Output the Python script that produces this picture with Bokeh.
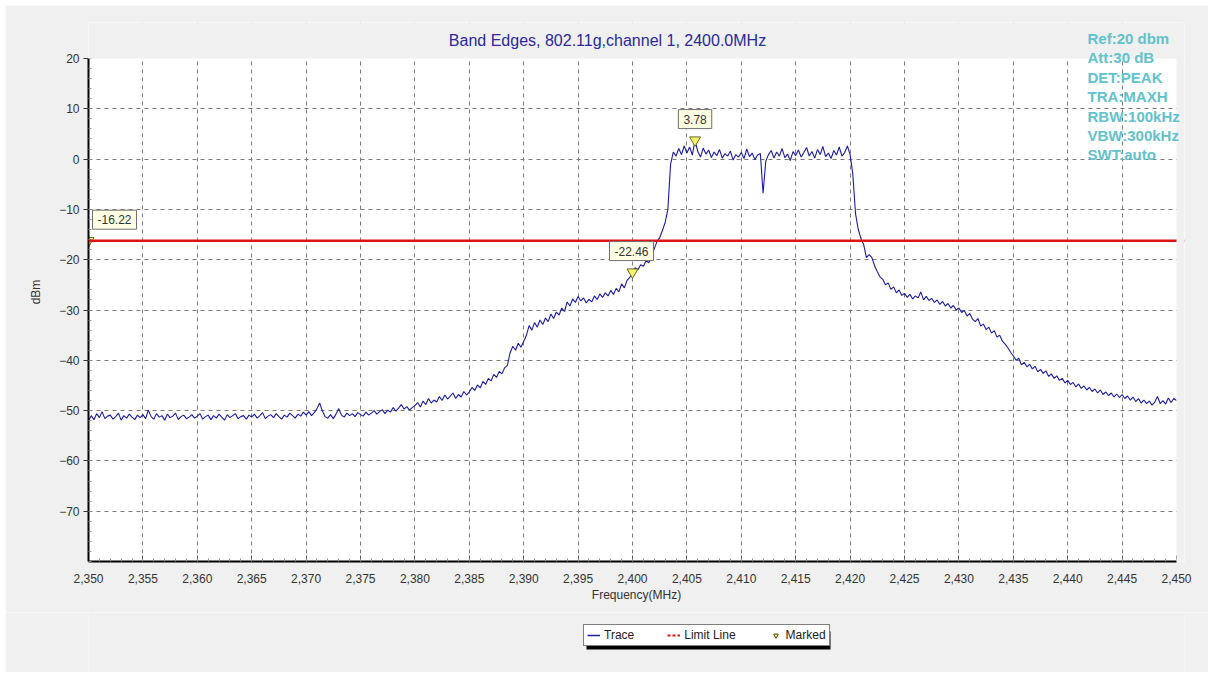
import numpy as np
from bokeh.plotting import figure
from bokeh.layouts import column
from bokeh.models import (ColumnDataSource, Label, Legend, LegendItem, FixedTicker,
                          NumeralTickFormatter, Range1d, Span, BoxAnnotation)
from bokeh.embed import file_html
from bokeh.resources import INLINE

title_text = "Band Edges, 802.11g,channel 1, 2400.0MHz"
f_start, f_stop = 2350.0, 2450.0
y_min, y_max = -80.0, 20.0

# trace level (dBm), one value every 0.25 MHz
level_dbm = [
    -52.1, -51.0, -51.8, -50.6, -51.4, -50.2, -51.6, -51.1, -50.9, -51.7, -51.2, -50.5, -51.9, -51.0, -51.5, -50.7, -51.3, -51.8, -50.9, -51.4,
    -50.8, -51.6, -49.9, -51.2, -51.7, -50.6, -51.3, -51.0, -51.9, -50.7, -51.4, -51.1, -50.5, -51.8, -51.2, -50.9, -51.6, -51.3, -50.8, -51.5,
    -51.1, -50.6, -51.7, -51.2, -50.9, -51.8, -51.0, -51.5, -50.7, -51.3, -51.9, -50.8, -51.4, -51.0, -50.6, -51.6, -51.2, -51.0, -51.7, -50.9,
    -51.3, -50.7, -51.5, -51.0, -50.4, -51.6, -51.1, -50.8, -51.4, -50.6, -51.2, -51.7, -50.9, -51.3, -50.5, -51.0, -51.5, -50.7, -51.1, -50.3,
    -50.9, -50.2, -51.0, -50.4, -49.6, -48.5, -50.1, -51.2, -51.5, -50.8, -51.6, -50.7, -49.6, -50.9, -51.3, -50.5, -51.0, -50.6, -51.2, -50.4,
    -50.8, -51.1, -50.3, -50.9, -50.5, -50.0, -50.7, -50.2, -49.8, -50.6, -49.9, -50.3, -49.4, -50.1, -49.5, -48.8, -49.7, -49.2, -49.9, -49.4,
    -49.0, -48.4, -49.3, -48.1, -48.8, -47.6, -48.5, -47.9, -48.3, -47.2, -48.0, -46.9, -47.7, -47.1, -46.5, -47.6, -46.8, -47.3, -46.2, -46.9,
    -46.3, -45.4, -46.0, -44.9, -45.5, -44.2, -44.8, -43.6, -44.1, -42.8, -43.4, -42.2, -42.7, -41.5, -41.0, -38.5, -37.2, -38.0, -36.6, -37.4,
    -36.2, -35.0, -33.1, -34.0, -32.5, -33.4, -32.0, -32.9, -31.6, -32.3, -30.8, -31.7, -30.4, -31.0, -29.6, -30.3, -28.4, -29.2, -27.8, -28.5,
    -27.3, -28.2, -27.6, -28.6, -27.9, -28.4, -27.2, -27.9, -26.8, -27.5, -26.6, -27.2, -26.1, -26.9, -25.7, -26.4, -24.8, -25.6, -24.1, -23.5,
    -22.6, -21.6, -22.0, -21.0, -21.3, -20.2, -20.6, -19.4, -17.8, -16.4, -15.6, -14.2, -12.6, -10.0, -1.0, 1.4, 0.6, 2.1, 0.9, 2.6,
    1.2, 2.4, 0.8, 3.78, 1.5, 0.4, 2.2, 1.0, 1.8, 0.3, 1.4, 0.7, 1.9, 0.2, 1.1, 0.6, 1.6, -0.2, 0.9, 0.4,
    1.3, 0.1, 2.0, 0.5, 1.2, -0.1, 0.8, 1.1, -6.8, -0.4, 0.9, 1.7, 0.2, 1.4, 0.6, 2.1, 0.3, 1.0, -0.3, 1.5,
    0.7, 1.8, 0.4, 1.3, 2.3, 0.6, 1.5, 0.2, 1.9, 0.9, 2.5, 0.5, 1.2, 0.1, 1.7, 0.8, 2.4, 0.6, 1.3, 2.6,
    0.9, -3.0, -10.9, -14.0, -15.8, -17.0, -19.6, -19.0, -19.6, -21.2, -22.4, -23.4, -23.9, -25.0, -24.6, -25.9, -25.4, -26.6, -26.0, -27.1,
    -26.7, -27.5, -26.9, -27.8, -27.2, -27.6, -26.4, -28.0, -27.3, -28.1, -27.7, -28.5, -28.0, -28.9, -28.3, -29.2, -28.7, -29.6, -29.1, -30.0,
    -29.6, -30.5, -30.1, -31.2, -30.7, -31.8, -32.3, -31.7, -33.2, -32.8, -33.9, -33.4, -34.6, -34.1, -35.4, -35.0, -36.2, -36.8, -37.5, -38.4,
    -39.1, -40.0, -39.6, -40.9, -40.4, -41.3, -40.8, -41.7, -41.2, -42.3, -41.8, -42.6, -42.1, -43.2, -42.7, -43.6, -43.1, -44.0, -43.6, -44.5,
    -44.0, -44.8, -44.4, -45.3, -44.7, -45.6, -45.1, -45.9, -45.4, -46.2, -45.7, -46.5, -45.9, -46.8, -46.3, -47.0, -46.5, -47.3, -46.7, -47.4,
    -46.8, -47.6, -47.1, -47.9, -47.3, -48.2, -47.6, -48.5, -47.9, -48.6, -48.1, -48.9, -48.3, -47.2, -48.6, -48.0, -48.7, -47.5, -48.4, -47.6,
    -48.0,
]
# sweep points are evenly spaced between start and stop frequency
freq_mhz = np.linspace(f_start, f_stop, len(level_dbm))

limit_dbm = -16.22
marker_freq = [2350.0, 2400.0, 2405.75]
marker_level = [-16.22, -22.46, 3.78]
marker_text = ["-16.22", "-22.46", "3.78"]

info_lines = ["Ref:20 dbm", "Att:30 dB", "DET:PEAK", "TRA:MAXH",
              "RBW:100kHz", "VBW:300kHz", "SWT:auto"]

legend_labels = ["Trace", "Limit Line", "Marked"]

x_ticks = list(range(2350, 2451, 5))
x_minor = list(range(2350, 2451, 1))
y_ticks = list(range(-70, 21, 10))
y_minor = list(range(-80, 21, 2))

# ---------------- layout / style ----------------
FONT = "Liberation Sans"
BG = "#f0f0f0"
TRACE_C = "#1c1ca0"
LIMIT_C = "#e01414"
PLOT_W, PLOT_H = 1088, 503          # white plot area in px
TOP_PAD, RIGHT_PAD = 36, 8          # extra frame room for the header texts
BORDER_L, BORDER_R = 83, 24
px_per_mhz = PLOT_W / (f_stop - f_start)
px_per_db = PLOT_H / (y_max - y_min)

p = figure(frame_width=PLOT_W + RIGHT_PAD, frame_height=PLOT_H + TOP_PAD,
           min_border_left=BORDER_L, min_border_right=BORDER_R, min_border_top=17, min_border_bottom=51,
           x_range=Range1d(f_start, f_stop + RIGHT_PAD / px_per_mhz),
           y_range=Range1d(y_min, y_max + TOP_PAD / px_per_db),
           output_backend="svg", toolbar_location=None,
           background_fill_color="white", border_fill_color=BG,
           outline_line_color=None)

# axes
xa = p.xaxis[0]
xa.ticker = FixedTicker(ticks=x_ticks, minor_ticks=x_minor)
xa.formatter = NumeralTickFormatter(format="0,0")
xa.bounds = (f_start, f_stop)
xa.axis_label = "Frequency(MHz)"
xa.axis_line_color = "black"
xa.axis_line_width = 2
xa.major_tick_in = 6
xa.major_tick_out = 0
xa.minor_tick_in = 3
xa.minor_tick_out = 0
xa.major_tick_line_color = "#555555"
xa.minor_tick_line_color = "#888888"
xa.major_label_standoff = 12
xa.axis_label_standoff = 2

ya = p.yaxis[0]
ya.ticker = FixedTicker(ticks=y_ticks, minor_ticks=y_minor)
ya.bounds = (y_min, y_max)
ya.axis_label = "dBm"
ya.axis_line_color = "black"
ya.axis_line_width = 2
ya.major_tick_in = 0
ya.major_tick_out = 5
ya.minor_tick_in = 3
ya.minor_tick_out = 0
ya.major_tick_line_color = "#333333"
ya.minor_tick_line_color = "#888888"
ya.major_label_standoff = 4
ya.axis_label_standoff = 13

for ax in (xa, ya):
    ax.major_label_text_font = FONT
    ax.major_label_text_font_size = "12px"
    ax.major_label_text_color = "#333333"
    ax.axis_label_text_font = FONT
    ax.axis_label_text_font_size = "12px"
    ax.axis_label_text_font_style = "normal"
    ax.axis_label_text_color = "#333333"

p.xgrid.ticker = FixedTicker(ticks=x_ticks[1:-1])
p.ygrid.ticker = FixedTicker(ticks=y_ticks[:-1])
for g in (p.xgrid[0], p.ygrid[0]):
    g.grid_line_color = "#7a7a7a"
    g.grid_line_dash = "4 4"
    g.grid_line_width = 1

# trace
src = ColumnDataSource(dict(f=freq_mhz, lvl=level_dbm))
p.line("f", "lvl", source=src, line_color=TRACE_C, line_width=1.1)

# markers
msrc = ColumnDataSource(dict(f=marker_freq, lvl=marker_level, t=marker_text))
p.scatter("f", "lvl", source=msrc, marker="inverted_triangle", size=11,
          fill_color="#f4f46a", line_color="#6b6b2a", line_width=1)

# limit line
p.add_layout(Span(location=limit_dbm, dimension="width", line_color=LIMIT_C, line_width=2.5))

# grey cover for the header strip and the right margin of the frame
p.add_layout(BoxAnnotation(bottom=y_max, fill_color=BG, fill_alpha=1.0, line_color=None))
p.add_layout(BoxAnnotation(left=f_stop, fill_color=BG, fill_alpha=1.0, line_color=None))

# marker value boxes
label_dx = [26, -1, 0]
for f, lv, t, dx in zip(marker_freq, marker_level, marker_text, label_dx):
    p.add_layout(Label(x=f, y=lv, text=t, x_offset=dx, y_offset=21,
                       text_align="center", text_baseline="middle",
                       text_font=FONT, text_font_size="12px", text_color="#333333",
                       background_fill_color="#ffffe4", background_fill_alpha=1.0,
                       border_line_color="#707070", border_line_width=1,
                       padding=5))

# title
p.add_layout(Label(x=(f_start + f_stop) / 2, y=y_max, text=title_text, x_offset=-25, y_offset=18,
                   text_align="center", text_baseline="middle",
                   text_font=FONT, text_font_size="16px", text_color="#2a2a98"))

# instrument settings text
for i, line in enumerate(info_lines):
    p.add_layout(Label(x=f_stop, y=y_max, text=line, x_offset=-89, y_offset=20 - i * 19.4,
                       text_align="left", text_baseline="middle",
                       text_font=FONT, text_font_size="15px", text_font_style="bold",
                       text_color="#62c2cb"))

# ---------------- legend strip (pixel coordinates inside its frame) ----------------
LF_W, LF_H = PLOT_W + RIGHT_PAD, 60
lf = figure(frame_width=LF_W, frame_height=LF_H,
            min_border_left=BORDER_L, min_border_right=BORDER_R, min_border_top=0, min_border_bottom=0,
            x_range=Range1d(0, LF_W), y_range=Range1d(0, LF_H),
            x_axis_type=None, y_axis_type=None,
            output_backend="svg", toolbar_location=None,
            outline_line_color=None,
            background_fill_color=BG, border_fill_color=BG)
lf.grid.visible = False
OFF = [-50, -40]  # legend-only renderers, kept outside the visible range
r_trace = lf.line(x=OFF, y=OFF, line_color=TRACE_C, line_width=1.5)
r_limit = lf.line(x=OFF, y=OFF, line_color=LIMIT_C, line_width=2, line_dash="3 2")
r_mark = lf.scatter(x=OFF, y=OFF, marker="inverted_triangle", size=9,
                    fill_color="#f4f46a", line_color="#4a4a10", line_width=1)

LEG_X, LEG_Y, LEG_W, LEG_H = 495, 26, 244, 18
lf.add_layout(BoxAnnotation(left=LEG_X + 3, right=LEG_X + 3 + LEG_W,
                            bottom=LEG_Y - 3, top=LEG_Y - 3 + LEG_H,
                            fill_color="black", fill_alpha=1.0, line_color=None))
legend = Legend(items=[LegendItem(label=lab, renderers=[r]) for lab, r in
                       zip(legend_labels, [r_trace, r_limit, r_mark])],
                orientation="horizontal", location=(LEG_X, LEG_Y),
                background_fill_color="white", background_fill_alpha=1.0,
                border_line_color="black", border_line_width=1,
                label_text_font=FONT, label_text_font_size="12px",
                label_text_color="#222222",
                glyph_width=13, glyph_height=12, label_height=12,
                label_standoff=4, spacing=33, padding=3, margin=0)
lf.add_layout(legend)

page = column(p, lf, margin=(5, 5, 5, 5), spacing=0)

open("out.html", "w").write(file_html(page, INLINE))
